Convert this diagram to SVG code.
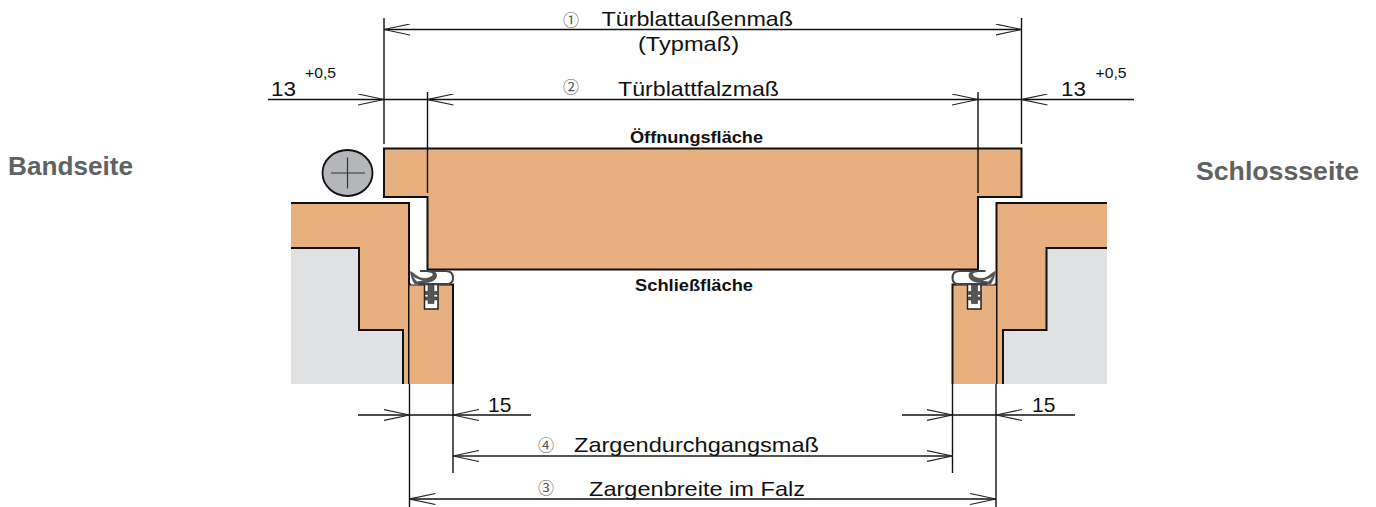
<svg xmlns="http://www.w3.org/2000/svg" width="1376" height="507" viewBox="0 0 1376 507">
<style>
text{font-family:"Liberation Sans",Arial,sans-serif;fill:#111}
.d{font-size:21px}
.n{font-size:16px;fill:#555;font-family:"Noto Sans CJK SC","DejaVu Sans",sans-serif}
.b{font-size:16px;font-weight:bold}
.s{font-size:25px;font-weight:bold;fill:#606163}
.sm{font-size:15px}
.wood{fill:#e8b07f}
.grey{fill:#e0e1e3}
.o{fill:none;stroke:#111;stroke-width:2}
.l{fill:none;stroke:#111;stroke-width:1.400}
.a{fill:none;stroke:#111;stroke-width:1.300}
</style>
<defs>
<marker id="e" markerUnits="userSpaceOnUse" viewBox="0 0 26 12" refX="26" refY="6" markerWidth="26" markerHeight="12" orient="auto-start-reverse">
<path d="M0 .5L26 6L0 11.5" fill="none" stroke="#222" stroke-width="1.100"/>
</marker>
<g id="seal-shape">
<path fill="#fff" stroke="none" d="M411 272L421 270H447C452 270 454 274 454 278C454 282 451 284.500 447 284.500H411z"/>
<path fill="none" stroke="#444" stroke-width="2" d="M420 271H446C451 271 453 274 453 278C453 281.500 451 284 447 284H418"/>
<path fill="#555" stroke="#333" stroke-width=".6" d="M410.500 271.500C414 273 417 277 421 278C426 279 431 278 433 275C433.500 273 431 272 428 272L428 270.500C433 270 437 272 436.500 276C436 280 432 282 426 282.500C422 283 418 283.500 415 284C412 280 411 276 410.500 271.500z"/>
<path fill="#fff" stroke="none" d="M413 276.500C414.500 278.500 416 280.500 417 281.500C419 281 421 280.800 423 280.500C420 280 416 278.500 413 276.500z"/>
<path fill="#555" stroke="#333" stroke-width=".6" d="M428 284.500H434V291.500H437V294.500H434V297H437V300H434V303.500H428V300H425V297H428V294.500H425V291.500H428z"/>
</g>
</defs>

<g id="frame-left">
<path class="grey" d="M291 248H359V330H403V384H291z"/>
<path class="wood" d="M291 203H409V384H403V330H359V248H291z"/>
<path class="o" d="M291 203H409V384M291 248H359V330H403V384"/>
</g>
<g id="frame-right">
<path class="grey" d="M1107 248H1046.500V330H1003V384H1107z"/>
<path class="wood" d="M1107 203H996.500V384H1003V330H1046.500V248H1107z"/>
<path class="o" d="M1107 203H996.500V384M1107 248H1046.500V330H1003V384"/>
</g>
<g id="block-left">
<path class="wood" d="M409.500 284.500H453V384H409.500z"/>
<path class="o" d="M409.500 284.500H453V384"/>
<path fill="#fff" stroke="#222" stroke-width="1.500" d="M424.500 284.500H438V309H424.500z"/>
</g>
<g id="block-right">
<path class="wood" d="M952.500 284.500H996V384H952.500z"/>
<path class="o" d="M996 284.500H952.500V384"/>
<path fill="#fff" stroke="#222" stroke-width="1.500" d="M967.500 284.500H981V309H967.500z"/>
</g>
<g id="door">
<path class="wood" d="M384 148.500H1021.500V197H978V269.500H427.500V197H384z"/>
<path class="o" d="M427.500 269.500H978V197H1021.500V148.500H384V197H427.500z"/>
</g>
<g id="seal-left"><use href="#seal-shape"/></g>
<g id="seal-right"><use href="#seal-shape" transform="translate(1405.500 0) scale(-1 1)"/></g>
<g id="screw">
<ellipse cx="347.500" cy="173" rx="25" ry="23" fill="#b5b6ba" stroke="#111" stroke-width="1.800"/>
<path fill="none" stroke="#333" stroke-width="1.200" d="M331 173H365M347.500 157.500V188.500"/>
</g>

<g id="connectors">
<path class="l" d="M384 18V144M1021.500 18V144M427.500 92V193M978 92V193"/>
<path class="l" d="M409.500 384V507M453 384V473M952.500 384V473M996 384V507"/>
<path class="a" d="M384 29.500H1021.500" marker-start="url(#e)" marker-end="url(#e)"/>
<path class="a" d="M427.500 99.500H978" marker-start="url(#e)" marker-end="url(#e)"/>
<path class="a" d="M268 99.500H384" marker-end="url(#e)"/>
<path class="a" d="M384 99.500H427.500"/>
<path class="a" d="M1134 99.500H1021.500" marker-end="url(#e)"/>
<path class="a" d="M978 99.500H1021.500"/>
<path class="a" d="M358 415H409.500" marker-end="url(#e)"/>
<path class="a" d="M531 415H453" marker-end="url(#e)"/>
<path class="a" d="M409.500 415H453"/>
<path class="a" d="M902 415H952.500" marker-end="url(#e)"/>
<path class="a" d="M1075 415H996" marker-end="url(#e)"/>
<path class="a" d="M952.500 415H996"/>
<path d="M453 456H952.500" fill="none" stroke="#555" stroke-width="1.800" marker-start="url(#e)" marker-end="url(#e)"/>
<path class="a" d="M409.500 499H996" marker-start="url(#e)" marker-end="url(#e)"/>
</g>

<g id="labels">
<text class="n" x="563" y="26">①</text>
<text class="d" x="601.500" y="25.700" textLength="191.500" lengthAdjust="spacingAndGlyphs">Türblattaußenmaß</text>
<text class="d" x="638" y="50.500" textLength="101" lengthAdjust="spacingAndGlyphs">(Typmaß)</text>
<text class="n" x="563" y="93">②</text>
<text class="d" x="618" y="96" textLength="161" lengthAdjust="spacingAndGlyphs">Türblattfalzmaß</text>
<text class="b" x="630" y="143" textLength="133" lengthAdjust="spacingAndGlyphs">Öffnungsfläche</text>
<text class="b" x="635" y="291" textLength="118" lengthAdjust="spacingAndGlyphs">Schließfläche</text>
<text class="d" x="271" y="96" textLength="25" lengthAdjust="spacingAndGlyphs">13</text>
<text class="sm" x="305" y="77.500" textLength="31" lengthAdjust="spacingAndGlyphs">+0,5</text>
<text class="d" x="1061" y="96" textLength="25" lengthAdjust="spacingAndGlyphs">13</text>
<text class="sm" x="1095.500" y="77.500" textLength="31" lengthAdjust="spacingAndGlyphs">+0,5</text>
<text class="d" x="488" y="411.500">15</text>
<text class="d" x="1032" y="411.500">15</text>
<text class="n" x="538" y="451">④</text>
<text class="d" x="574" y="451.500" textLength="245" lengthAdjust="spacingAndGlyphs">Zargendurchgangsmaß</text>
<text class="n" x="538" y="494">③</text>
<text class="d" x="589" y="495.500" textLength="216" lengthAdjust="spacingAndGlyphs">Zargenbreite im Falz</text>
<text class="s" x="8" y="175" textLength="125" lengthAdjust="spacingAndGlyphs">Bandseite</text>
<text class="s" x="1196" y="180" textLength="163" lengthAdjust="spacingAndGlyphs">Schlossseite</text>
</g>
</svg>
